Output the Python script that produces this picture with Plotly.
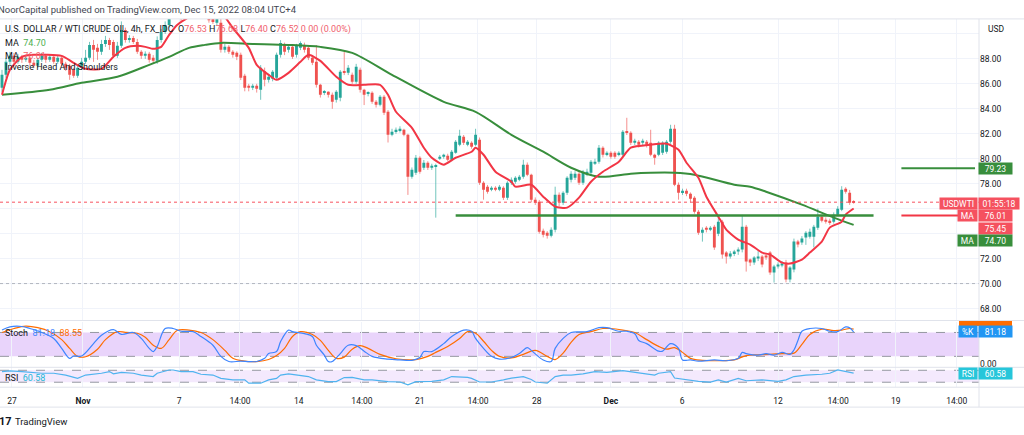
import plotly.graph_objects as go

# ---------------- data ----------------
bars = list(range(215))
opens = [85.68,86.72,87.76,88.24,87.76,88.16,87.92,88.08,87.68,87.44,87.92,88.24,87.92,88.16,87.76,88.08,87.60,87.44,87.12,86.64,
         87.28,87.76,88.08,89.12,88.88,88.56,89.20,89.52,89.36,88.24,89.04,90.32,89.52,89.68,89.36,88.56,88.24,88.40,88.08,87.84,
         89.52,90.16,90.72,91.60,92.30,91.90,91.75,92.40,92.70,92.20,91.90,92.20,91.75,91.30,90.90,90.90,88.72,88.96,88.56,88.48,
         88.32,86.64,85.84,85.68,85.84,85.52,87.00,86.32,86.40,86.48,88.32,89.12,88.72,88.96,88.32,88.88,89.12,88.88,88.08,87.76,
         85.92,85.28,85.36,85.12,84.72,84.88,86.96,86.88,86.72,86.16,87.12,85.52,85.20,85.28,84.56,84.32,84.96,83.76,81.92,82.16,
         82.24,82.32,81.92,78.56,78.88,80.08,79.28,79.68,79.28,79.36,80.00,80.16,80.24,79.92,80.48,81.12,81.76,81.12,81.28,81.12,
         81.52,78.08,77.76,77.52,77.68,77.52,77.68,76.88,78.08,78.16,78.32,78.56,79.52,78.72,76.72,76.56,74.24,74.08,73.84,74.32,
         77.12,76.48,77.28,78.32,78.48,78.80,78.08,78.72,78.88,79.60,79.76,80.88,80.32,80.48,80.48,80.32,80.32,82.16,82.08,81.28,
         81.36,81.28,81.36,81.28,80.32,80.32,80.48,80.56,81.36,82.40,77.92,77.28,77.44,77.20,76.88,75.76,74.08,74.48,74.32,74.56,
         74.00,74.96,72.48,72.16,72.40,72.56,72.72,74.56,71.92,71.68,72.00,72.16,72.24,72.48,70.88,71.36,71.44,71.68,70.32,71.12,
         73.36,73.28,73.68,73.76,73.76,74.48,75.36,75.12,75.04,74.96,75.52,75.92,77.60,77.28,76.53]
highs = [87.12,88.08,88.56,88.48,88.40,88.32,88.24,88.32,87.92,88.08,88.48,88.40,88.32,88.32,88.24,88.24,87.76,87.60,87.28,87.52,
         88.08,88.72,89.36,89.52,89.20,89.52,89.84,89.68,89.52,89.36,91.00,90.50,89.90,89.84,89.60,88.70,88.60,88.56,88.30,89.80,
         90.40,91.00,92.00,92.60,92.70,92.20,92.80,93.00,93.00,92.50,92.40,92.40,91.90,91.50,91.50,91.30,89.20,89.10,88.70,88.60,
         88.50,86.80,86.00,86.00,86.00,87.50,87.30,86.80,87.10,88.50,89.50,89.30,89.10,89.10,89.20,89.40,89.30,89.00,88.30,89.10,
         86.00,85.50,85.40,85.30,85.50,87.10,88.56,87.50,86.90,87.60,87.30,85.60,85.40,85.40,84.70,85.10,85.10,83.90,82.40,82.50,
         82.60,82.40,82.00,79.30,80.30,80.20,79.90,79.80,79.60,79.60,80.30,80.40,80.40,80.70,81.50,82.32,81.90,81.50,81.40,82.40,
         81.70,78.20,77.90,77.80,77.80,77.90,77.80,78.20,78.50,78.60,78.70,79.92,79.70,78.80,76.90,76.70,74.40,74.20,74.50,77.76,
         77.30,77.40,78.60,79.00,79.00,79.00,79.10,79.20,79.90,80.00,81.10,81.00,80.60,80.60,80.60,80.60,82.30,83.28,82.20,81.60,
         81.50,81.60,81.50,82.32,80.40,81.40,81.40,81.50,82.72,82.72,78.10,77.60,77.60,77.30,77.00,75.90,74.50,74.60,74.60,74.70,
         75.30,75.10,72.60,72.60,72.70,72.90,75.50,74.70,72.00,72.20,72.60,72.30,72.40,72.60,71.50,71.70,71.80,71.90,71.40,73.60,
         73.50,73.80,74.20,74.40,74.70,76.00,75.50,75.30,75.20,75.70,76.20,77.80,77.72,77.50,76.68]
lows = [85.36,86.48,87.52,87.44,87.60,87.68,87.76,87.44,87.28,87.28,87.76,87.68,87.76,87.60,87.60,87.44,87.04,86.32,86.48,86.48,
        87.12,87.60,87.92,87.76,87.92,88.32,88.96,88.72,88.08,88.08,88.88,89.30,89.30,89.20,88.40,88.00,88.00,87.70,87.60,87.60,
        89.30,90.00,90.50,91.30,91.50,91.00,91.50,92.20,92.00,91.60,91.70,91.50,90.90,90.80,90.70,88.50,88.50,88.40,88.10,87.90,
        86.30,85.40,85.40,85.50,85.30,84.72,85.80,86.10,86.20,86.30,88.10,88.30,88.50,88.00,88.10,88.70,88.50,87.90,87.50,85.70,
        84.90,85.10,84.90,84.00,84.50,84.60,86.70,86.70,86.00,86.00,85.30,84.30,85.00,84.40,84.10,84.20,83.50,81.30,81.80,82.00,
        82.10,81.80,77.10,78.40,78.70,78.80,79.10,79.10,79.10,75.28,79.90,80.00,79.80,79.80,80.40,81.00,81.10,81.00,80.80,81.00,
        77.90,76.72,77.20,77.40,77.40,77.40,76.70,76.70,77.90,78.00,78.20,78.40,78.60,76.50,76.30,74.00,73.70,73.60,73.70,74.10,
        76.20,76.30,77.10,78.10,78.30,77.90,77.90,78.60,78.70,79.50,79.60,80.10,80.20,80.00,80.00,80.20,80.20,81.90,81.10,81.10,
        80.90,81.10,80.90,80.20,79.52,80.20,80.30,80.40,81.20,77.80,76.72,77.10,77.00,76.50,75.60,73.90,73.36,74.10,74.20,72.70,
        73.80,72.00,71.60,72.00,72.20,72.30,72.50,70.96,71.40,71.50,71.80,71.30,71.90,70.70,70.08,71.20,71.30,70.10,70.10,70.90,
        72.90,73.10,73.10,73.60,72.90,74.30,74.90,74.80,74.70,74.80,75.40,75.80,77.20,76.30,76.40]
closes = [86.72,87.76,88.24,87.76,88.16,87.92,88.08,87.68,87.44,87.92,88.24,87.92,88.16,87.76,88.08,87.60,87.28,86.72,86.64,87.28,
          87.76,88.08,89.12,88.72,88.56,89.20,89.52,89.12,88.24,89.04,90.32,89.52,89.68,89.36,88.56,88.24,88.40,87.92,87.84,89.52,
          90.16,90.72,91.60,92.30,91.90,91.75,92.40,92.70,92.20,91.90,92.20,91.75,91.10,90.95,91.30,88.72,88.96,88.56,88.32,88.16,
          86.48,85.68,85.68,85.84,85.60,87.28,86.32,86.56,86.96,88.32,89.28,88.56,88.96,88.16,89.04,89.28,88.72,88.08,87.68,85.92,
          85.12,85.36,85.12,84.56,85.36,86.96,86.88,87.28,86.16,87.36,85.52,85.12,85.28,84.56,84.32,84.96,83.68,81.92,82.16,82.32,
          82.40,81.92,78.56,79.12,80.08,78.96,79.68,79.28,79.44,79.44,80.16,80.32,79.92,80.56,81.36,81.84,81.28,81.36,80.96,81.92,
          78.08,77.52,77.36,77.68,77.52,77.76,76.88,78.08,78.32,78.48,78.56,79.52,78.72,76.72,76.48,74.16,73.92,73.84,74.32,77.12,
          76.56,77.28,78.48,78.80,78.80,78.08,78.96,78.96,79.76,79.76,80.88,80.32,80.48,80.16,80.16,80.48,82.16,82.08,81.28,81.44,
          81.12,81.44,81.12,80.32,80.08,81.28,81.28,81.36,82.40,77.92,77.28,77.44,77.20,76.80,75.76,74.08,74.32,74.32,74.48,72.88,
          74.96,72.32,72.16,72.40,72.56,72.72,74.56,71.76,71.68,72.08,72.16,71.52,72.08,70.88,71.36,71.52,71.60,70.32,71.28,73.36,
          73.12,73.60,74.08,74.16,74.56,75.36,75.04,74.96,74.88,75.52,76.00,77.52,77.36,76.48,76.52]

ma_fast_x = [0,2,5,8,15,18,21,25,28,31,34,36,38,40,42,44,47,50,53,56,58,62,64,67,69,72,75,77,80,84,87,91,95,97,99,103,106,108,
             111,114,118,119,121,124,128,129,133,136,139,142,145,148,151,155,158,163,167,170,172,175,177,180,182,185,188,191,193,
             196,198,201,203,206,208,211,212,214]
ma_fast = [85.12,87.12,88.16,88.32,88.24,87.68,87.2,87.2,88.16,88.88,89.04,88.96,88.8,88.96,89.92,90.72,91.36,92.1,92.2,91.36,
           90.48,88.88,87.52,86.72,86.32,86.88,87.76,88.32,87.84,86.56,85.92,85.92,85.92,85.12,83.76,82.48,80.88,80.08,
           79.52,80.08,80.56,80.88,80.32,78.96,78.16,77.76,77.92,76.96,76.16,76.08,76.88,78.16,78.96,79.76,80.88,81.12,81.2,
           80.72,79.68,78.48,76.96,75.36,74.32,73.52,73.12,72.48,72.32,71.68,71.6,71.92,72.48,73.36,74.48,74.96,75.52,76.01]
ma_slow_x = [0,12,20,29,37,42,47,51,55,63,72,80,88,98,111,119,128,136,143,150,158,163,169,174,184,188,192,201,209,214]
ma_slow = [85.12,85.52,86.08,86.56,87.52,88.16,88.88,89.12,89.28,89.2,89.12,88.96,88.48,86.72,84.56,83.76,81.92,80.56,79.28,
           78.56,78.8,78.88,78.88,78.72,77.92,77.76,77.36,76.32,75.28,74.70]

stoch_k_x = [0,2,5,7,10,13,15,17,18,20,23,25,28,30,33,35,37,38,39,41,43,45,48,50,53,55,57,60,62,64,66,67,69,70,72,73,76,78,79,81,
             82,83,85,87,89,91,93,97,100,103,105,106,108,111,113,116,118,119,121,123,125,128,130,132,133,136,138,139,141,143,147,
             150,152,155,157,159,160,162,165,166,168,170,171,173,175,179,182,185,186,187,190,192,194,196,198,199,200,201,203,206,
             208,210,212,213,214]
stoch_k = [86,94,95,90,80,65,40,15,21,21,52,73,87,75,80,65,40,32,45,90,90,83,82,70,48,20,7,8,7,7,15,27,32,57,86,82,77,70,48,23,
           7,7,27,48,47,33,20,13,11,10,17,32,32,52,70,86,83,65,40,20,13,17,27,42,35,11,7,40,65,80,82,
           92,92,83,83,77,60,52,33,33,52,40,11,11,8,11,9,15,30,27,23,27,23,30,25,36,60,83,90,90,
           83,82,94,92,81.18]
stoch_d_x = [0,3,6,9,12,15,17,19,21,24,26,29,31,34,36,38,40,42,44,47,50,53,56,58,61,64,67,69,71,73,75,78,80,82,84,86,88,90,92,95,
             99,104,107,109,112,115,117,119,121,123,125,128,131,134,137,139,141,143,145,148,151,153,156,159,162,165,167,169,171,
             173,176,180,184,187,190,193,196,199,201,203,206,209,211,213,214]
stoch_d = [80,90,96,92,82,62,40,20,19,38,62,82,80,78,68,48,40,62,85,86,80,62,35,15,8,7,12,22,40,70,82,75,60,35,15,18,38,47,40,25,
           14,12,20,30,45,65,82,78,58,35,20,16,25,35,20,12,28,55,75,82,90,90,86,80,62,45,38,42,30,
           15,10,9,11,22,24,25,27,28,50,75,88,85,86,90,88.55]
rsi_x = [0,2,5,7,10,13,16,19,21,25,27,28,30,33,35,38,39,42,43,45,48,50,53,55,58,61,62,65,67,69,70,72,75,77,79,82,84,86,88,91,
         93,97,100,102,104,108,111,113,117,118,120,123,126,128,131,133,134,137,139,141,143,146,149,152,156,159,161,164,165,168,
         169,172,175,178,180,182,185,187,191,195,197,199,202,206,208,210,212,214]
rsi = [65.6,67.8,65.6,63,60,60,54,43,54,60,65.6,58,63,60,54,49,60,71,71,65.6,65.6,56.7,54,43,37.8,37.8,26.7,26.7,37.8,43,54,
       57.8,54,49,37.8,32,32,45.6,46,37.8,37.8,32,30.7,21,32,33,37.8,49,46,43,30.7,30.7,37.8,44,49,39,30.7,26.7,49,54,54,57.8,
       65.6,63,69,63,60,54,60,65.6,44,37.8,33,30.7,37.8,30.7,43,35,37.8,33,37.8,49,54,56.7,60,71,65.6,60.58]

tick_pos = [2.5, 20.35, 44.5, 59.8, 74.6, 90.45, 105.0, 119.6, 134.4, 153.0, 170.9, 195.0, 210.1, 224.6, 239.9]
tick_text = ['27', '<b>Nov</b>', '7', '14:00', '14', '14:00', '21', '14:00', '28', '<b>Dec</b>', '6', '12', '14:00', '19', '14:00']
price_ticks = [68, 70, 72, 74, 76, 78, 80, 82, 84, 86, 88, 90]
price_tick_text = ['68.00', '70.00', '72.00', '', '', '78.00', '80.00', '82.00', '84.00', '86.00', '88.00', '']

support_level = 75.45
support_from, support_to = 114, 219
target_level = 79.23
proj_from, proj_to = 226, 244.5
low_level = 70.0

ma_fast_last, ma_slow_last = 76.01, 74.70
stoch_k_last, stoch_d_last, rsi_last = 81.18, 88.55, 60.58

# ---------------- styling ----------------
W, H = 1024, 435
UP, DN = '#26a69a', '#ef5350'
UPW, DNW = 'rgba(38,166,154,0.65)', 'rgba(239,83,80,0.65)'
RED, GREEN = '#f23645', '#388e3c'
TXT = '#131722'
GRID = '#f0f3fa'
SEP = '#e0e3eb'
FONT = 'Roboto'
XR = 979 / W


def py(px):
    return 1 - px / H


fig = go.Figure()

# wicks
for up, col in ((True, UPW), (False, DNW)):
    xs, ys = [], []
    for i, o, h, l, c in zip(bars, opens, highs, lows, closes):
        if (c >= o) == up:
            xs += [i, i, None]
            ys += [l, h, None]
    fig.add_trace(go.Scatter(x=xs, y=ys, mode='lines', line=dict(color=col, width=1),
                             hoverinfo='skip', xaxis='x', yaxis='y'))

# bodies
for up, col in ((True, UP), (False, DN)):
    xs, base, hgt = [], [], []
    for i, o, c in zip(bars, opens, closes):
        if (c >= o) == up:
            xs.append(i)
            base.append(min(o, c))
            hgt.append(max(abs(c - o), 0.06))
    fig.add_trace(go.Bar(x=xs, y=hgt, base=base, width=0.72, marker=dict(color=col, line=dict(width=0)),
                         xaxis='x', yaxis='y'))

# moving averages
fig.add_trace(go.Scatter(x=ma_slow_x, y=ma_slow, mode='lines', line=dict(color=GREEN, width=2, shape='spline', smoothing=0.8),
                         xaxis='x', yaxis='y'))
fig.add_trace(go.Scatter(x=ma_fast_x, y=ma_fast, mode='lines', line=dict(color=RED, width=2, shape='spline', smoothing=0.6),
                         xaxis='x', yaxis='y'))

# drawings
fig.add_trace(go.Scatter(x=[support_from, support_to], y=[support_level, support_level], mode='lines',
                         line=dict(color=GREEN, width=2.5), xaxis='x', yaxis='y'))
fig.add_trace(go.Scatter(x=[proj_from, proj_to], y=[target_level, target_level], mode='lines',
                         line=dict(color=GREEN, width=2), xaxis='x', yaxis='y'))
fig.add_trace(go.Scatter(x=[proj_from, proj_to], y=[support_level, support_level], mode='lines',
                         line=dict(color=RED, width=2), xaxis='x', yaxis='y'))

# stochastic
fig.add_trace(go.Scatter(x=stoch_d_x, y=stoch_d, mode='lines', line=dict(color='#ff6d00', width=1.2, shape='spline'),
                         xaxis='x', yaxis='y2'))
fig.add_trace(go.Scatter(x=stoch_k_x, y=stoch_k, mode='lines', line=dict(color='#3d85ff', width=1.2, shape='spline'),
                         xaxis='x', yaxis='y2'))
# RSI
fig.add_trace(go.Scatter(x=rsi_x, y=rsi, mode='lines', line=dict(color='#4fb3ef', width=1.2),
                         xaxis='x', yaxis='y3'))

shapes = []
# bands
shapes.append(dict(type='rect', xref='paper', yref='y2', x0=0, x1=XR, y0=20, y1=80, fillcolor='#e9d4fb',
                   line=dict(width=0), layer='below'))
shapes.append(dict(type='rect', xref='paper', yref='y3', x0=0, x1=XR, y0=30, y1=70, fillcolor='#f4e9fd',
                   line=dict(width=0), layer='below'))
for yr, v in (('y2', 20), ('y2', 80), ('y3', 30), ('y3', 70)):
    shapes.append(dict(type='line', xref='paper', yref=yr, x0=0, x1=XR, y0=v, y1=v,
                       line=dict(color='#9598a1', width=1, dash='dash'), layer='below'))
# price lines
shapes.append(dict(type='line', xref='paper', yref='y', x0=0, x1=XR, y0=closes[-1], y1=closes[-1],
                   line=dict(color='#f7525f', width=1, dash='dot')))
shapes.append(dict(type='line', xref='paper', yref='y', x0=0, x1=XR, y0=low_level, y1=low_level,
                   line=dict(color='#b2b5be', width=1, dash='dot')))
# separators
for ypx in (19, 322, 369, 389, 409):
    shapes.append(dict(type='line', xref='paper', yref='paper', x0=0, x1=1, y0=py(ypx), y1=py(ypx),
                       line=dict(color=SEP, width=1)))
shapes.append(dict(type='line', xref='paper', yref='paper', x0=XR, x1=XR, y0=py(409), y1=py(19),
                   line=dict(color=SEP, width=1)))
# clipped %D label
shapes.append(dict(type='rect', xref='paper', yref='paper', x0=959 / W, x1=1012 / W, y0=py(327.5), y1=py(322.5),
                   fillcolor='#ff6d00', line=dict(width=0)))

ann = []


def text(x, y, s, size=9, color=TXT, anchor='left'):
    ann.append(dict(xref='paper', yref='paper', x=x / W, y=py(y), text=s, showarrow=False, xanchor=anchor,
                    yanchor='middle', font=dict(family=FONT, size=size, color=color)))


def box(x0, x1, y, s, bg):
    ann.append(dict(xref='paper', yref='paper', x=(x0 + x1) / 2 / W, y=py(y), text=s, showarrow=False,
                    xanchor='center', yanchor='middle', width=x1 - x0, height=11, bgcolor=bg, borderpad=0,
                    font=dict(family=FONT, size=8.5, color='white')))


def span(s, c):
    return f'<span style="color:{c}">{s}</span>'


RV = '#f0616d'
text(-4, 10, 'NoorCapital published on TradingView.com, Dec 15, 2022 08:04 UTC+4', size=9.5, color='#434651')
text(3, 30, 'U.S. DOLLAR / WTI CRUDE OIL, 4h, FX_IDC  O' + span(f'{opens[-1]:.2f}', RV) + ' H' + span(f'{highs[-1]:.2f}', RV)
     + ' L' + span(f'{lows[-1]:.2f}', RV) + ' C' + span(f'{closes[-1]:.2f}', RV) + ' '
     + span(f'{closes[-1] - closes[-1]:.2f} (0.00%)', RV), size=9)
text(3, 43, 'MA  ' + span(f'{ma_slow_last:.2f}', '#4caf50'), size=9)
text(3, 56, 'MA  ' + span(f'{ma_fast_last:.2f}', RV), size=9)
text(3, 67, 'Inverse Head And Shoulders', size=9)
text(3, 335, 'Stoch  ' + span(f'{stoch_k_last:.2f}', '#3d85ff') + '  ' + span(f'{stoch_d_last:.2f}', '#ff6d00'), size=9)
text(3, 380, 'RSI  ' + span(f'{rsi_last:.2f}', '#22b8d6'), size=9)
text(986, 29, 'USD', size=8.5)
text(-3, 423, '<b>17</b>', size=11)
text(13, 423, 'TradingView', size=9.5)

RB = '#f5515f'
box(979, 1012, 169.5, f'{target_level:.2f}', GREEN)
box(940, 977, 204, 'USDWTI', RB)
box(979, 1019, 204, '01:55:18', RB)
box(958, 977, 216.5, 'MA', RB)
box(979, 1012, 216.5, f'{ma_fast_last:.2f}', RB)
box(979, 1012, 229.5, f'{support_level:.2f}', RB)
box(958, 977, 241.5, 'MA', GREEN)
box(979, 1012, 241.5, f'{ma_slow_last:.2f}', GREEN)
box(959, 977, 333.5, '%K', '#2196f3')
box(979, 1012, 333.5, f'{stoch_k_last:.2f}', '#2196f3')
box(959, 977, 375.5, 'RSI', '#26c6da')
box(979, 1012, 375.5, f'{rsi_last:.2f}', '#26c6da')

fig.update_layout(
    width=W, height=H, margin=dict(l=0, r=0, t=0, b=0),
    paper_bgcolor='white', plot_bgcolor='white', showlegend=False, barmode='overlay',
    font=dict(family=FONT, size=8.5, color=TXT),
    xaxis=dict(domain=[0, XR], range=[-0.5, 245.5], tickvals=tick_pos, ticktext=tick_text, anchor='y3',
               showgrid=True, gridcolor=GRID, gridwidth=1, zeroline=False, showline=False, ticks='',
               ticklabelstandoff=7, tickfont=dict(family=FONT, size=8.5, color=TXT)),
    yaxis=dict(domain=[py(322), py(19)], range=[67.04, 91.2], side='right', anchor='x', tickvals=price_ticks,
               ticktext=price_tick_text, showgrid=True, gridcolor=GRID, zeroline=False, showline=False, ticks='',
               tickfont=dict(family=FONT, size=8.5, color=TXT)),
    yaxis2=dict(domain=[py(369), py(323)], range=[-7.5, 107.5], side='right', anchor='x', tickvals=[0],
                ticktext=['0.00'], showgrid=False, zeroline=False, showline=False, ticks='',
                tickfont=dict(family=FONT, size=8.5, color=TXT)),
    yaxis3=dict(domain=[py(389), py(369)], range=[13.33, 80], side='right', anchor='x', showticklabels=False,
                showgrid=False, zeroline=False, showline=False),
    shapes=shapes, annotations=ann,
)

fig.write_html('out.html', config={'displayModeBar': False},
               post_script="document.body.style.margin='0';document.body.style.overflow='hidden';")
